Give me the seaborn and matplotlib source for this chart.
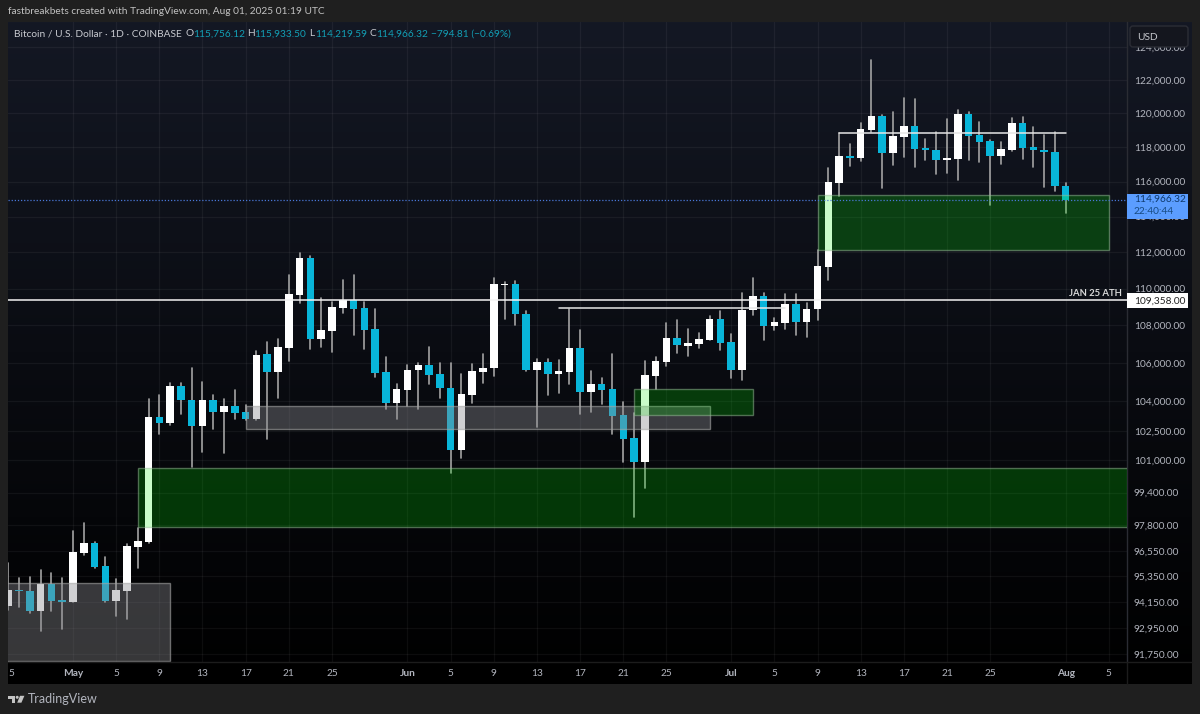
import numpy as np
import pandas as pd
import seaborn as sns
import matplotlib.dates as mdates
import matplotlib.pyplot as plt
from matplotlib.patches import Rectangle, FancyBboxPatch, Polygon, Circle

# BTC/USD daily candles
first_day = '2025-04-25'
last_day = '2025-08-01'

opens = [93960, 94710, 94660, 93730, 95000, 94240,
         94150, 96470, 96950, 95850, 94190, 94660, 96760, 96990, 103210, 102900, 104810, 104080, 102750, 104080,
         103460, 103770, 103460, 103100, 106480, 105540, 106800, 109650, 111680, 107280, 107710, 108940, 109380,
         108940, 107820, 105540, 103930,
         104600, 105640, 105900, 105430, 104700, 101530, 104340, 105540, 105750, 110190, 110250, 108620, 105640,
         106060, 105430, 105540, 106800, 104500, 104910, 104650, 103310, 102130, 100920, 105330, 106060, 107330,
         106910, 107020, 107230, 108350,
         107120, 105640, 108830, 109590, 107980, 108140, 109160, 108190, 108890, 111180, 115920, 117480, 117370,
         119010, 119840, 117660, 118590, 119250, 117950, 117830, 117250, 117310, 119960, 118710, 118360, 117480,
         117830, 119420, 118010, 117830, 117720,
         115756.12]
highs = [95990, 95280, 95320, 95660, 95510, 95280,
         97530, 97910, 96990, 96280, 95230, 96900, 97670, 104130, 104340, 104960, 104960, 105750, 105010, 104340,
         104130, 104600, 103820, 106640, 107120, 107280, 110740, 111960, 111790, 109490, 109270, 110470, 110740,
         109270, 108890, 106330, 104910,
         105900, 106010, 106860, 106010, 106010, 105430, 105960, 106480, 110580, 110360, 110410, 108780, 106220,
         106220, 106170, 108890, 107760, 105590, 105220, 106480, 103980, 103410, 106120, 106330, 108140, 108300,
         107820, 107600, 108510, 108780,
         107550, 109760, 110580, 109760, 108400, 109700, 109700, 109210, 112130, 116790, 118830, 118190, 119420,
         123220, 119900, 120080, 120910, 120850, 118480, 118890, 119660, 120200, 120080, 119480, 118420, 118300,
         119720, 119780, 119190, 118710, 118890,
         115933.50]
lows = [93780, 93910, 93640, 92800, 93730, 92890,
        94150, 96370, 95750, 94150, 93500, 93360, 95750, 96950, 102340, 102800, 103360, 100680, 101430, 102590,
        101380, 103100, 103050, 103050, 102080, 104180, 106120, 109210, 106750, 106860, 106590, 108670, 107490,
        106750, 105270, 103620, 103100,
        103770, 103620, 104910, 104180, 100370, 101130, 103930, 104960, 105330, 108350, 108030, 105590, 102700,
        104340, 104450, 104910, 103360, 103460, 103870, 102340, 100920, 98200, 99630, 104650, 105850, 106540,
        106380, 106800, 107230, 106700,
        105220, 105120, 108570, 107230, 107760, 107820, 107490, 107390, 108300, 110470, 115170, 116900, 117190,
        118890, 115630, 116960, 117430, 116840, 117250, 116440, 116500, 116090, 117250, 117130, 114660, 117020,
        117780, 117310, 116840, 115690, 115460,
        114219.59]
closes = [94710, 94660, 93730, 95000, 94190, 94150,
          96520, 96950, 95800, 94190, 94710, 96800, 97040, 103210, 102900, 104810, 104080, 102750, 104080, 103460,
          103770, 103410, 103100, 106430, 105540, 106860, 109700, 111680, 107280, 107760, 109000, 109380, 108890,
          107760, 105490, 103930, 104650,
          105640, 105900, 105380, 104700, 101530, 104390, 105590, 105750, 110250, 110250, 108620, 105640, 106060,
          105430, 105590, 106800, 104500, 104910, 104600, 103260, 102080, 100920, 105380, 106120, 107330, 106960,
          107070, 107280, 108350, 107070,
          105640, 108830, 109590, 107980, 108190, 109160, 108190, 108890, 111240, 115980, 117480, 117370, 119070,
          119840, 117660, 118650, 119250, 117890, 117830, 117250, 117370, 119960, 118650, 118300, 117480, 117890,
          119420, 117950, 117830, 117720, 115761,
          114966.32]

# drawn zones: start day, end day, top price, bottom price
zone_start = ['2025-04-20', '2025-05-07', '2025-05-17', '2025-06-22', '2025-07-09']
zone_end = ['2025-05-10', '2025-08-15', '2025-06-29', '2025-07-03', '2025-08-05']
zone_top = [95040, 100620, 103770, 104650, 115230]
zone_bottom = [91430, 97720, 102590, 103310, 112130]
zone_kind = ['grey', 'green', 'grey', 'green', 'green']

# horizontal levels
ath_price = 109358
last_price = 114966.32
level_start = ['2025-06-15', '2025-07-11']
level_end = ['2025-07-06', '2025-08-01']
level_price = [108940, 118830]

price_ticks = [124000, 122000, 120000, 118000, 116000, 114000, 112000, 110000, 108000, 106000, 104000,
               102500, 101000, 99400, 97800, 96550, 95350, 94150, 92950, 91750]
date_ticks = ['2025-05-01', '2025-05-05', '2025-05-09', '2025-05-13', '2025-05-17', '2025-05-21', '2025-05-25',
              '2025-06-01', '2025-06-05', '2025-06-09', '2025-06-13', '2025-06-17', '2025-06-21', '2025-06-25',
              '2025-07-01', '2025-07-05', '2025-07-09', '2025-07-13', '2025-07-17', '2025-07-21', '2025-07-25',
              '2025-08-01', '2025-08-05']
date_labels = ['May', '5', '9', '13', '17', '21', '25', 'Jun', '5', '9', '13', '17', '21', '25',
               'Jul', '5', '9', '13', '17', '21', '25', 'Aug', '5']

PAGE = '#1f1f1f'
LABEL = '#b2b5be'
TEAL = '#08b5d9'
TEAL_TEXT = '#129fb5'
FS = 7.3

sns.set_theme(style='dark', rc={'axes.facecolor': 'none', 'figure.facecolor': PAGE})
plt.rcParams['font.family'] = ['Lato', 'DejaVu Sans']

fig = plt.figure(figsize=(12, 7.14), dpi=100)

# pane background, navy fading to black
bg = fig.add_axes([8 / 1200, 1 - 684 / 714, 1184 / 1200, 662 / 714], zorder=-1)
ramp = np.linspace(0, 1, 256)[:, None, None] * (np.array([0, 0, 0]) - np.array([20, 24, 36])) + np.array([20, 24, 36])
bg.imshow(ramp.astype(np.uint8), aspect='auto')
bg.axis('off')

# price pane, pixel box x 8..1127, y 22..662
ax = fig.add_axes([8 / 1200, 1 - 662 / 714, 1119 / 1200, 640 / 714])
ax.set_yscale('log')

df = pd.DataFrame({'date': pd.date_range(first_day, last_day), 'open': opens, 'high': highs,
                   'low': lows, 'close': closes})
wicks = df.melt(id_vars='date', value_vars=['high', 'low'], value_name='price')
sns.lineplot(data=wicks, x='date', y='price', units='date', estimator=None, color='#a3a3a3', lw=1.2, ax=ax,
             zorder=2)

up = df[df['close'] >= df['open']]
down = df[df['close'] < df['open']]
ax.bar(up['date'], up['close'] - up['open'], bottom=up['open'], width=0.7, color='white', lw=0, zorder=3)
ax.bar(down['date'], down['open'] - down['close'], bottom=down['close'], width=0.7, color=TEAL, lw=0, zorder=3)

for start, end, top, bottom, kind in zip(zone_start, zone_end, zone_top, zone_bottom, zone_kind):
    x0 = mdates.date2num(pd.Timestamp(start))
    x1 = mdates.date2num(pd.Timestamp(end))
    if kind == 'green':
        face, edge = (0, 0.95, 0, 0.21), (0.6, 0.75, 0.6, 0.5)
    else:
        face, edge = (0.54, 0.54, 0.56, 0.4), (0.65, 0.65, 0.65, 0.6)
    ax.add_patch(Rectangle((x0, bottom), x1 - x0, top - bottom, facecolor=face, edgecolor=edge, lw=1, zorder=4))

ax.axhline(last_price, color='#4a78d8', lw=0.9, ls=(0, (1, 1.5)), zorder=5)
ax.axhline(ath_price, color='#f2f2f2', lw=1.1, zorder=5)
for start, end, price in zip(level_start, level_end, level_price):
    ax.plot([pd.Timestamp(start), pd.Timestamp(end)], [price, price], color='#e6e6e6', lw=1.1, zorder=5)

ax.set_ylim(91380, 125565)
day = mdates.date2num(pd.Timestamp('2025-05-01'))
ax.set_xlim(day - 65 / 10.79, day + 1054 / 10.79)
ax.set_yticks(price_ticks)
ax.set_yticklabels([f'{p:,.2f}' for p in price_ticks])
ax.minorticks_off()
ax.yaxis.tick_right()
ax.set_xticks([pd.Timestamp(d) for d in date_ticks])
ax.set_xticklabels(date_labels)
ax.tick_params(axis='y', length=0, pad=5, labelsize=FS, labelcolor=LABEL)
ax.tick_params(axis='x', length=0, pad=5, labelsize=FS, labelcolor=LABEL)
for lab in ax.get_xticklabels():
    if lab.get_text().isalpha():
        lab.set_fontweight('bold')
ax.set_xlabel('')
ax.set_ylabel('')
ax.grid(True, color='white', alpha=0.05, lw=0.9)
ax.set_axisbelow(True)
for side in ['top', 'bottom', 'left']:
    ax.spines[side].set_visible(False)
ax.spines['right'].set_color('#2a2c33')
ax.spines['right'].set_linewidth(1)
ax.text(0.9955, ath_price * 1.0012, 'JAN 25 ATH', transform=ax.get_yaxis_transform(), ha='right', va='bottom',
        fontsize=6.8, fontweight='bold', color='#d8d8d8', zorder=6)

# everything around the pane, in pixel coordinates
top = fig.add_axes([0, 0, 1, 1], zorder=10)
top.set_xlim(0, 1200)
top.set_ylim(714, 0)
top.axis('off')
top.patch.set_alpha(0)


def price_y(price):
    return 714 - ax.transData.transform((day, price))[1]


# bottom edge of the pane, divider on the price scale
top.plot([8, 1192], [662, 662], color='#1c1c1c', lw=1)
top.plot([1127, 1127], [662, 684], color='#1c1c1c', lw=1)

# price tags
y_last = price_y(last_price)
top.add_patch(Rectangle((1127, y_last - 6), 61, 25, facecolor='#5b9dff', lw=0))
top.text(1134, y_last, f'{last_price:,.2f}', fontsize=FS, color='#0f3a6e', va='center')
top.text(1134, y_last + 12, '22:40:44', fontsize=FS, color='#174a80', va='center')
y_ath = price_y(ath_price)
top.add_patch(Rectangle((1127, y_ath - 7), 61, 15, facecolor='white', lw=0))
top.text(1134, y_ath + 0.5, f'{ath_price:,.2f}', fontsize=FS, color='#222222', va='center')

# USD button
top.add_patch(FancyBboxPatch((1132, 28), 54, 17, boxstyle='round,pad=2,rounding_size=3', facecolor='#14161e',
                             edgecolor='#2b2d35', lw=1))
top.text(1137, 37, 'USD', fontsize=FS, color='#c4c6cc', va='center')

# header text
top.text(8, 12, 'fastbreakbets created with TradingView.com, Aug 01, 2025 01:19 UTC', fontsize=FS,
         color='#c2c2c2', va='center')
top.text(14, 34, 'Bitcoin / U.S. Dollar · 1D · COINBASE', fontsize=FS, color='#c8cad0', va='center')
legend_items = [(185, 'O', 193, '115,756.12'), (247, 'H', 254, '115,933.50'),
                (309, 'L', 315, '114,219.59'), (370, 'C', 376, '114,966.32')]
for x0, letter, x1, value in legend_items:
    top.text(x0, 34, letter, fontsize=FS, color='#c8cad0', va='center')
    top.text(x1, 34, value, fontsize=FS, color=TEAL_TEXT, va='center')
top.text(431, 34, '\u2212794.81 (\u22120.69%)', fontsize=FS, color=TEAL_TEXT, va='center')

# clipped label of the first date tick
top.text(11, 673, '5', fontsize=FS, color=LABEL, va='center', ha='center')

# TradingView mark
logo = '#c4c4c4'
top.add_patch(Polygon([(8.3, 695.8), (15, 695.8), (15, 702.7), (11.5, 702.7), (11.5, 698.6), (8.3, 698.6)],
                      facecolor=logo, lw=0))
top.add_patch(Circle((17.2, 697.3), 1.5, facecolor=logo, lw=0))
top.add_patch(Polygon([(20, 695.8), (24.4, 695.8), (21.4, 702.7), (17.2, 702.7)], facecolor=logo, lw=0))
top.text(28, 699, 'TradingView', fontsize=9, color=LABEL, va='center')

fig.savefig('out.png', dpi=100, facecolor=PAGE)
